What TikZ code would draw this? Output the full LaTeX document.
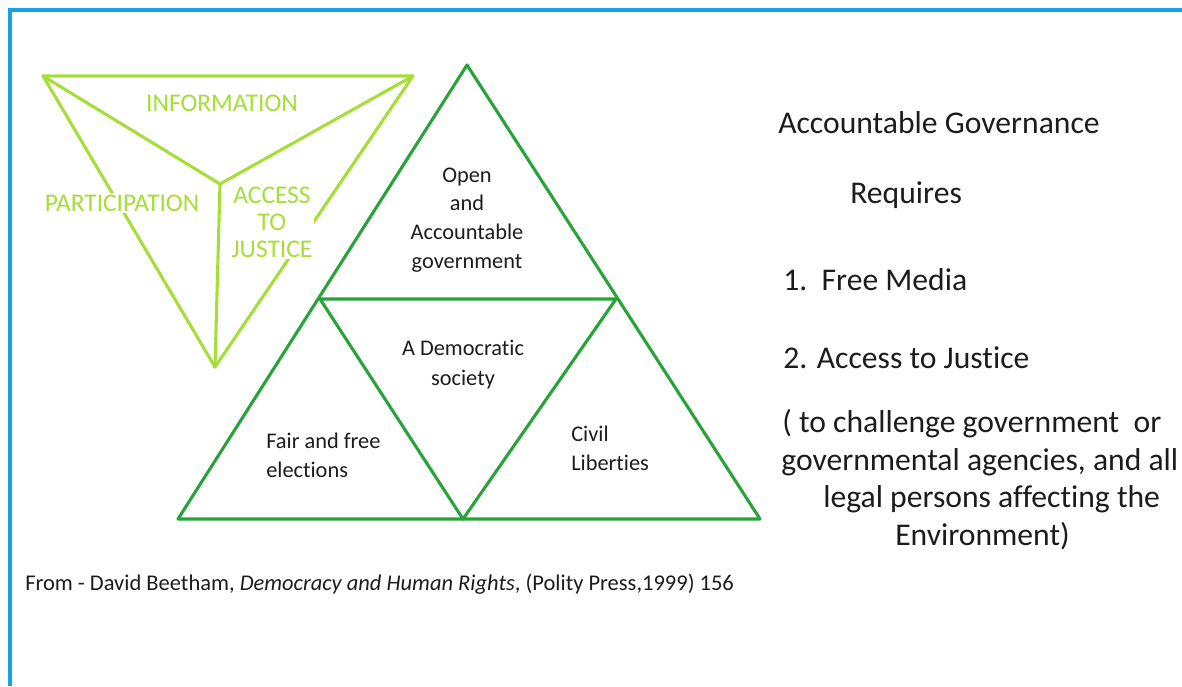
\documentclass[tikz,border=0pt]{standalone}
\usepackage{fontspec}
\setmainfont[Ligatures={NoCommon}]{Carlito}
\usepackage{tikz}
\usetikzlibrary{calc}

\definecolor{framblue}{HTML}{17A2E6}
\definecolor{limegrn}{HTML}{A6DE37}
\definecolor{leafgrn}{HTML}{27A33A}
\definecolor{inkgray}{HTML}{1C1C1C}

\begin{document}
\begin{tikzpicture}[x=0.025cm,y=-0.025cm]
\tikzstyle{lime}=[limegrn,line width=2.2pt,line join=round,line cap=round]
\tikzstyle{leaf}=[leafgrn,line width=2.2pt,line join=round]
\tikzstyle{lbl}=[inner sep=1pt,fill=white,text=limegrn,align=center,anchor=base,
  font=\fontsize{18.1}{19.2}\selectfont]
\tikzstyle{txt}=[inner sep=0pt,text=inkgray,font=\fontsize{15.9}{20.3}\selectfont]
\tikzstyle{big}=[inner sep=0pt,anchor=base west,text=inkgray,font=\fontsize{22.5}{28}\selectfont]

\useasboundingbox (0,0) rectangle (1182,686);
\draw[framblue,line width=2.2pt] (10,686) -- (10,10) -- (1182,10); % frame

% small triangle
\coordinate (tl) at (43,76);
\coordinate (tr) at (413,76);
\coordinate (bt) at (215,367);
\coordinate (ct) at (220,184);
\draw[lime] (tl) -- (tr) -- (bt) -- cycle;
\draw[lime] (tl) -- (ct) -- (tr);
\draw[lime] (ct) -- (bt);
\node[lbl] (info) at (222,111) {INFORMATION};
\node[lbl] (part) at (122,211) {PARTICIPATION};
\node[lbl] (just) at (272,257) {ACCESS\\TO\\JUSTICE}; % base = last line

% big triangle
\coordinate (apex) at (467,65);
\coordinate (bl) at (178,519);
\coordinate (br) at (760,519);
\coordinate (ml) at (320,299);
\coordinate (mr) at (616,299);
\coordinate (mb) at (463,519);
\draw[leaf] (apex) -- (bl) -- (br) -- cycle;
\draw[leaf] (ml) -- (mr) -- (mb) -- cycle;

\node[txt,align=center,anchor=base] (open) at (467,268) {Open\\and\\Accountable\\government};
\node[txt,align=center,anchor=base,font=\fontsize{15.9}{21.3}\selectfont] (demo) at (463,385) {A Democratic\\society};
\node[txt,align=left,anchor=base west] (fair) at (266,477) {Fair and free\\elections};
\node[txt,align=left,anchor=base west] (civil) at (571,470) {Civil\\Liberties};

% right column
\node[big] (gov) at (778,133) {Accountable Governance};
\node[big] (req) at (850,203) {Requires};
\node[big] (media) at (783,290) {1.\ \ Free Media};
\node[big] (court) at (783,368) {2. Access to Justice};
\node[big] (ch1) at (782,432) {( to challenge government\ \ or};
\node[big] (ch2) at (781,470) {governmental agencies, and all};
\node[big] (ch3) at (823,507) {legal persons affecting the};
\node[big] (ch4) at (895,545) {Environment)};

\node[inner sep=0pt,anchor=base west,text=inkgray,font=\fontsize{16}{18}\selectfont] (src) at (25,590)
  {From - David Beetham, \textit{Democracy and Human Rights}, (Polity Press,1999) 156};
\end{tikzpicture}
\end{document}
